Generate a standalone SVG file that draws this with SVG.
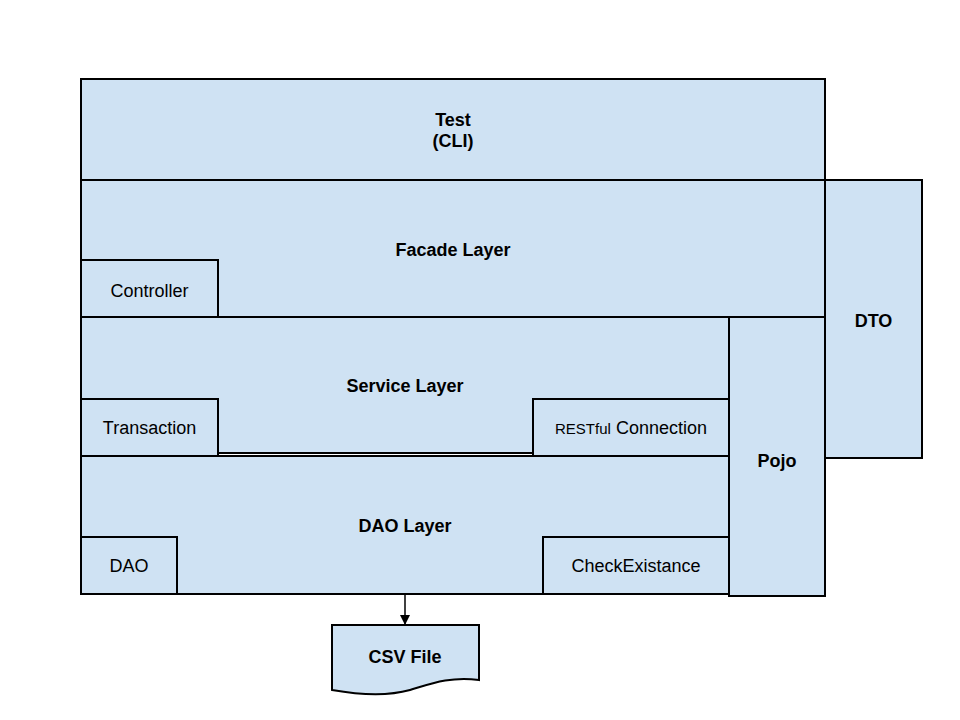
<svg xmlns="http://www.w3.org/2000/svg" width="960" height="720" viewBox="0 0 960 720">
<style>
.b{fill:#cfe2f3;stroke:#000;stroke-width:2}
.t{font-family:"Liberation Sans",Arial,sans-serif;font-size:18px;fill:#000;text-anchor:middle}
.bd{font-weight:bold}
</style>
<defs>
<marker id="ah" markerWidth="10" markerHeight="10" refX="9" refY="5" orient="auto" markerUnits="userSpaceOnUse">
<path d="M0,0 L10,5 L0,10 Z" fill="#000"/>
</marker>
</defs>
<rect width="960" height="720" fill="#fff"/>
<g id="test"><rect class="b" x="81" y="79" width="744" height="101"/><text class="t bd" x="453" y="126">Test</text><text class="t bd" x="453" y="147">(CLI)</text></g>
<g id="facade"><rect class="b" x="81" y="180" width="744" height="137"/><text class="t bd" x="453" y="256">Facade Layer</text></g>
<g id="controller"><rect class="b" x="81" y="260" width="137" height="57"/><text class="t" x="149.5" y="297">Controller</text></g>
<g id="dto"><rect class="b" x="825" y="180" width="97" height="278"/><text class="t bd" x="873.5" y="327">DTO</text></g>
<g id="service"><rect class="b" x="81" y="317" width="648" height="136"/><text class="t bd" x="405" y="392">Service Layer</text></g>
<g id="dao-layer"><rect class="b" x="81" y="456" width="648" height="138"/><text class="t bd" x="405" y="532">DAO Layer</text></g>
<g id="transaction"><rect class="b" x="81" y="399" width="137" height="57"/><text class="t" x="149.5" y="434">Transaction</text></g>
<g id="restful"><rect class="b" x="533" y="399" width="196" height="57"/><text class="t" x="631" y="434"><tspan font-size="15">RESTful</tspan> Connection</text></g>
<g id="pojo"><rect class="b" x="729" y="317" width="96" height="279"/><text class="t bd" x="777" y="467">Pojo</text></g>
<g id="dao"><rect class="b" x="81" y="537" width="96" height="57"/><text class="t" x="129" y="572">DAO</text></g>
<g id="check"><rect class="b" x="543" y="537" width="186" height="57"/><text class="t" x="636" y="572">CheckExistance</text></g>
<g id="csv"><path class="b" d="M332,625 H479 V680 C450,676 430,684 410,690 C385,697 355,694 332,690 Z"/><text class="t bd" x="405" y="663">CSV File</text></g>
<g id="connectors"><line x1="405" y1="595" x2="405" y2="624" stroke="#000" stroke-width="1.5" marker-end="url(#ah)"/></g>
</svg>
